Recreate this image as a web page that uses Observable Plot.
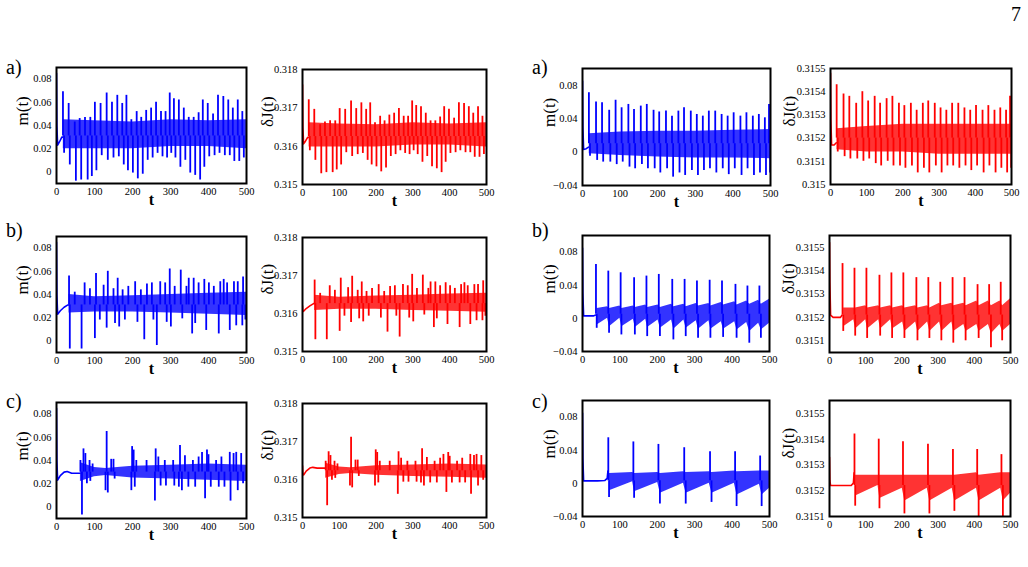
<!DOCTYPE html>
<html><head><meta charset="utf-8">
<script src="https://cdn.jsdelivr.net/npm/d3@7"></script>
<script src="https://cdn.jsdelivr.net/npm/@observablehq/plot@0.6"></script>
<style>
html,body{margin:0;padding:0;background:#fff;}
#fig{position:relative;width:1028px;height:567px;overflow:hidden;font-family:"Liberation Serif","Times New Roman",serif;color:#000;}
.lbl{position:absolute;font-size:20px;line-height:1;white-space:nowrap;}
</style></head><body><div id="fig"></div>
<script>
// ---------- shared ticks ----------
const tTicks = [0,100,200,300,400,500];
const mTicksL = [0,0.02,0.04,0.06,0.08];
const jTicksL = [0.315,0.316,0.317,0.318];
const mTicksR = [-0.04,0,0.04,0.08];
const jTicksRA = [0.315,0.3151,0.3152,0.3153,0.3154,0.3155];
const jTicksRBC = [0.3151,0.3152,0.3153,0.3154,0.3155];

// ---------- row a, left ----------
const LA_initT = [0,1,3,8,14,17];
const LA_mInit = [0.085,0.04,0.023,0.026,0.03,0.03];
const LA_jInit = [0.3176,0.3165,0.31606,0.31613,0.31623,0.31623];
const LA_tPk = [17,32,48,61,75,89,101,116,132,146,160,173,184,197,211,223,236,249,262,275,287,298,309,322,335,348,361,374,385,398,412,425,439,452,464,477,489];
const LA_mPk = [0.069,0.059,0.043,0.046,0.047,0.047,0.060,0.059,0.068,0.060,0.066,0.059,0.066,0.045,0.052,0.047,0.053,0.055,0.060,0.052,0.052,0.068,0.063,0.062,0.055,0.047,0.047,0.051,0.062,0.059,0.050,0.066,0.065,0.062,0.055,0.062,0.052];
const LA_jPk = [0.31721,0.31696,0.31656,0.31663,0.31666,0.31666,0.31698,0.31696,0.31718,0.31698,0.31713,0.31696,0.31713,0.31661,0.31678,0.31666,0.31681,0.31686,0.31698,0.31678,0.31678,0.31718,0.31706,0.31703,0.31686,0.31666,0.31666,0.31676,0.31703,0.31696,0.31673,0.31713,0.31711,0.31703,0.31686,0.31703,0.31678];
const LA_tTr = [20,35,51,65,82,93,105,119,135,150,164,177,188,201,214,227,240,253,266,279,291,302,313,326,339,352,365,378,389,402,416,429,443,456,468,481,493];
const LA_mTr = [0.016,0.006,-0.008,-0.007,-0.007,-0.004,0.001,0.014,0.010,0.012,0.013,0.006,0.001,-0.001,-0.006,-0.002,0.010,0.012,0.016,0.013,0.012,0.016,0.012,0.004,0.010,-0.001,-0.003,-0.007,0.004,0.013,0.014,0.016,0.014,0.014,0.009,0.009,0.012];
const LA_jTr = [0.31588,0.31563,0.31528,0.31531,0.31531,0.31538,0.31551,0.31583,0.31573,0.31578,0.31581,0.31563,0.31551,0.31546,0.31533,0.31543,0.31573,0.31578,0.31588,0.31581,0.31578,0.31588,0.31578,0.31558,0.31573,0.31546,0.31541,0.31531,0.31558,0.31581,0.31583,0.31588,0.31583,0.31583,0.31571,0.31571,0.31578];
const LA_bandT = [18,100,200,300,400,500];
const LA_mLo = [0.020,0.020,0.020,0.022,0.022,0.020];
const LA_mHi = [0.045,0.044,0.043,0.045,0.044,0.045];
const LA_jLo = [0.31598,0.31598,0.31598,0.31603,0.31603,0.31598];
const LA_jHi = [0.31661,0.31658,0.31656,0.31661,0.31658,0.31661];

// ---------- row b, left ----------
const LB_initT = [0,1,3,10,20,30,33];
const LB_mInit = [0.085,0.04,0.023,0.026,0.029,0.031,0.031];
const LB_jInit = [0.3162,0.31605,0.31606,0.31613,0.3162,0.31626,0.31626];
const LB_tPk = [33,48,74,88,104,124,135,150,161,174,189,207,222,238,251,273,286,298,311,327,342,348,361,374,389,401,414,431,440,449,467,477,491];
const LB_mPk = [0.056,0.042,0.050,0.045,0.058,0.048,0.060,0.045,0.054,0.044,0.047,0.051,0.044,0.049,0.050,0.051,0.050,0.062,0.047,0.061,0.047,0.054,0.054,0.050,0.053,0.050,0.047,0.051,0.053,0.050,0.051,0.051,0.055];
const LB_jPk = [0.31688,0.31653,0.31673,0.31661,0.31693,0.31668,0.31698,0.31661,0.31683,0.31658,0.31666,0.31676,0.31658,0.31671,0.31673,0.31676,0.31673,0.31703,0.31666,0.31701,0.31666,0.31683,0.31683,0.31673,0.31681,0.31673,0.31666,0.31676,0.31681,0.31673,0.31676,0.31676,0.31686];
const LB_tTr = [35,66,101,114,132,154,165,180,213,231,255,264,290,301,331,357,365,394,427,456,473,489,497];
const LB_mTr = [-0.007,-0.007,0.002,0.018,0.011,0.015,0.012,0.018,0.016,0.001,0.018,-0.004,0.016,0.012,0.019,0.006,0.015,0.009,0.006,0.009,0.013,0.013,0.018];
const LB_jTr = [0.31531,0.31531,0.31553,0.31593,0.31576,0.31586,0.31578,0.31593,0.31588,0.31551,0.31593,0.31538,0.31588,0.31578,0.31596,0.31563,0.31586,0.31571,0.31563,0.31571,0.31581,0.31581,0.31593];
const LB_bandT = [33,100,200,300,400,500];
const LB_mLo = [0.024,0.025,0.025,0.024,0.023,0.022];
const LB_mHi = [0.040,0.038,0.039,0.040,0.041,0.042];
const LB_jLo = [0.31608,0.31611,0.31611,0.31608,0.31606,0.31603];
const LB_jHi = [0.31648,0.31643,0.31646,0.31648,0.31651,0.31653];

// ---------- row c, left ----------
const LC_initT = [0,1,3,10,20,28,40,62];
const LC_mInit = [0.085,0.04,0.023,0.027,0.030,0.0305,0.029,0.029];
const LC_jInit = [0.31636,0.31615,0.31612,0.31622,0.3163,0.31632,0.3163,0.3163];
const LC_tPk = [63,71,76,87,95,132,144,150,199,203,210,237,261,268,285,307,325,338,359,374,383,396,400,420,434,456,466,473,486];
const LC_mPk = [0.040,0.050,0.046,0.040,0.037,0.065,0.041,0.041,0.052,0.049,0.040,0.040,0.050,0.043,0.040,0.040,0.053,0.044,0.040,0.043,0.047,0.049,0.045,0.040,0.043,0.047,0.046,0.047,0.046];
const LC_jPk = [0.31648,0.31673,0.31663,0.31648,0.31641,0.31711,0.31651,0.31651,0.31678,0.31671,0.31648,0.31648,0.31673,0.31656,0.31648,0.31648,0.31681,0.31658,0.31648,0.31656,0.31666,0.31671,0.31661,0.31648,0.31656,0.31666,0.31663,0.31666,0.31663];
const LC_tTr = [67,80,89,129,135,153,197,206,259,274,288,310,322,330,347,365,391,406,427,442,458,477,491];
const LC_mTr = [-0.007,0.020,0.022,0.014,0.012,0.024,0.014,0.017,0.005,0.018,0.018,0.018,0.017,0.014,0.017,0.017,0.007,0.017,0.017,0.017,0.005,0.014,0.020];
const LC_jTr = [0.31531,0.31598,0.31603,0.31583,0.31578,0.31608,0.31583,0.31591,0.31561,0.31593,0.31593,0.31593,0.31591,0.31583,0.31591,0.31591,0.31566,0.31591,0.31591,0.31591,0.31561,0.31583,0.31598];
const LC_bandT = [63,100,130,200,300,400,500];
const LC_mLo = [0.022,0.026,0.027,0.025,0.024,0.023,0.022];
const LC_mHi = [0.038,0.034,0.033,0.035,0.036,0.037,0.036];
const LC_jLo = [0.31603,0.31613,0.31616,0.31611,0.31608,0.31606,0.31603];
const LC_jHi = [0.31643,0.31633,0.31631,0.31636,0.31638,0.31641,0.31638];

// ---------- row a, right ----------
const RA_initT = [0,1,3,10,16];
const RA_mInit = [0.085,0.03,0.003,0.004,0.006];
const RA_jInit = [0.31548,0.31528,0.31517,0.31517,0.31518];
const RA_tPk = [17,36,52,71,88,104,122,137,155,171,189,204,222,238,255,270,288,304,320,336,353,370,386,402,420,436,453,469,485,496];
const RA_mPk = [0.071,0.060,0.059,0.050,0.062,0.053,0.057,0.051,0.055,0.057,0.050,0.048,0.049,0.043,0.049,0.053,0.049,0.045,0.043,0.049,0.049,0.045,0.043,0.047,0.043,0.047,0.043,0.045,0.041,0.057];
const RA_jPk = [0.31543,0.31539,0.31538,0.31535,0.31540,0.31536,0.31538,0.31535,0.31537,0.31538,0.31535,0.31534,0.31535,0.31532,0.31535,0.31536,0.31535,0.31533,0.31532,0.31535,0.31535,0.31533,0.31532,0.31534,0.31532,0.31534,0.31532,0.31533,0.31532,0.31538];
const RA_tTr = [20,39,55,74,91,107,125,140,158,174,192,207,225,241,258,273,291,307,323,339,356,373,389,405,423,439,456,472,488,499];
const RA_mTr = [-0.005,-0.010,-0.012,-0.012,-0.015,-0.012,-0.018,-0.020,-0.015,-0.020,-0.020,-0.025,-0.020,-0.030,-0.025,-0.028,-0.022,-0.028,-0.022,-0.020,-0.025,-0.020,-0.027,-0.020,-0.028,-0.020,-0.028,-0.025,-0.028,-0.025];
const RA_jTr = [0.31514,0.31512,0.31511,0.31511,0.31510,0.31511,0.31509,0.31508,0.31510,0.31508,0.31508,0.31507,0.31508,0.31505,0.31507,0.31505,0.31508,0.31505,0.31508,0.31508,0.31507,0.31508,0.31506,0.31508,0.31505,0.31508,0.31505,0.31507,0.31505,0.31507];
const RA_bandT = [18,100,200,300,400,500];
const RA_mLo = [-0.002,-0.004,-0.006,-0.007,-0.007,-0.008];
const RA_mHi = [0.022,0.024,0.025,0.025,0.026,0.027];
const RA_jLo = [0.31515,0.31514,0.31514,0.31513,0.31513,0.31513];
const RA_jHi = [0.31524,0.31525,0.31526,0.31526,0.31526,0.31526];

// ---------- row b, right ----------
const RB_initT = [0,1,3,10,20,30,35];
const RB_mInit = [0.085,0.03,0.003,0.003,0.003,0.003,0.004];
const RB_jInit = [0.31552,0.31535,0.31521,0.31520,0.31520,0.31520,0.31521];
const RB_tPk = [36,69,102,138,171,204,240,273,306,340,373,409,441,473];
const RB_mPk = [0.065,0.057,0.055,0.049,0.051,0.053,0.047,0.047,0.045,0.046,0.045,0.041,0.039,0.039];
const RB_jPk = [0.31543,0.31541,0.31541,0.31538,0.31539,0.31539,0.31537,0.31537,0.31535,0.31537,0.31537,0.31534,0.31534,0.31535];
const RB_tTr = [38,71,104,140,173,207,243,276,309,342,376,412,446,477];
const RB_mTr = [-0.012,-0.018,-0.020,-0.020,-0.022,-0.022,-0.026,-0.022,-0.024,-0.024,-0.023,-0.024,-0.030,-0.024];
const RB_jTr = [0.31514,0.31512,0.31511,0.31512,0.31511,0.31511,0.31510,0.31511,0.31510,0.31509,0.31510,0.31511,0.31507,0.31510];
const RB_bandT = [39,67,72,100,105,136,141,169,174,202,208,238,244,271,277,304,310,338,343,371,377,407,413,439,447,471,478,500];
const RB_mLo = [-0.008,0.000,-0.010,0.000,-0.010,-0.001,-0.011,-0.001,-0.011,-0.002,-0.012,-0.002,-0.013,-0.002,-0.012,-0.003,-0.013,-0.003,-0.013,-0.004,-0.013,-0.004,-0.014,-0.005,-0.016,-0.006,-0.014,-0.006];
const RB_mHi = [0.012,0.014,0.012,0.015,0.012,0.015,0.013,0.016,0.013,0.016,0.013,0.017,0.014,0.017,0.014,0.018,0.015,0.018,0.015,0.019,0.016,0.020,0.016,0.021,0.017,0.022,0.017,0.023];
const RB_jLo = [0.31516,0.31519,0.31515,0.31519,0.31515,0.31519,0.31515,0.31519,0.31515,0.31518,0.31514,0.31518,0.31514,0.31518,0.31514,0.31518,0.31514,0.31518,0.31514,0.31517,0.31514,0.31517,0.31514,0.31517,0.31513,0.31517,0.31514,0.31517];
const RB_jHi = [0.31524,0.31524,0.31524,0.31525,0.31524,0.31525,0.31524,0.31525,0.31524,0.31525,0.31524,0.31525,0.31524,0.31525,0.31524,0.31526,0.31525,0.31526,0.31525,0.31526,0.31525,0.31527,0.31525,0.31527,0.31525,0.31527,0.31525,0.31528];

// ---------- row c, right ----------
const RC_initT = [0,1,3,20,40,60,66,68];
const RC_mInit = [0.085,0.03,0.003,0.003,0.003,0.0035,0.006,0.015];
const RC_jInit = [0.31533,0.31524,0.31522,0.31522,0.31522,0.31522,0.31523,0.31527];
const RC_tPk = [69,136,203,272,341,408,475];
const RC_mPk = [0.055,0.050,0.047,0.043,0.038,0.038,0.033];
const RC_jPk = [0.31542,0.31540,0.31539,0.31538,0.31536,0.31536,0.31534];
const RC_tTr = [71,138,207,276,345,412,479];
const RC_mTr = [-0.017,-0.018,-0.025,-0.025,-0.023,-0.028,-0.028];
const RC_jTr = [0.31514,0.31513,0.31511,0.31511,0.31512,0.31510,0.31510];
const RC_bandT = [72,134,139,201,208,270,277,339,346,406,413,473,480,500];
const RC_mLo = [-0.009,0.002,-0.010,0.001,-0.012,0.000,-0.012,0.000,-0.012,0.000,-0.014,-0.001,-0.014,-0.006];
const RC_mHi = [0.012,0.013,0.012,0.013,0.012,0.014,0.013,0.014,0.013,0.015,0.014,0.015,0.015,0.015];
const RC_jLo = [0.31518,0.31522,0.31517,0.31521,0.31516,0.31521,0.31516,0.31521,0.31516,0.31521,0.31516,0.31521,0.31516,0.31519];
const RC_jHi = [0.31526,0.31526,0.31526,0.31526,0.31526,0.31526,0.31526,0.31526,0.31526,0.31527,0.31526,0.31527,0.31527,0.31527];

// ---------- drawing ----------
const fig = document.getElementById("fig");
const BLUE = "#0000ff", RED = "#ff0000";
const fmt = d => (d < 0 ? "\u2212" + String(-d) : String(d));
const pairs = (ts, vs) => ts.map((t, i) => ({t, v: vs[i]}));

function panel(o) {
  const mL = 50, mR = 4, mT = 4, mB = 32;
  const w = o.x1 - o.x0, h = o.y1 - o.y0;
  const band = o.bandT.map((t, i) => ({t, lo: o.lo[i], hi: o.hi[i]}));
  const svg = Plot.plot({
    width: w + mL + mR, height: h + mT + mB,
    marginLeft: mL, marginRight: mR, marginTop: mT, marginBottom: mB,
    style: {fontFamily: '"Liberation Serif","Times New Roman",serif', fontSize: "10.5px", background: "transparent", overflow: "visible", color: "#000"},
    x: {domain: [0, 500], ticks: tTicks, tickSize: 0, tickPadding: 4, label: null, tickFormat: d => String(d)},
    y: {domain: o.domain, ticks: o.ticks, tickSize: 0, tickPadding: 5, label: null, tickFormat: fmt},
    marks: [
      Plot.areaY(band, {x: "t", y1: "lo", y2: "hi", fill: o.color, fillOpacity: 0.8, clip: true}),
      Plot.ruleX(pairs(o.pkT, o.pk), {x: "t", y1: o.base, y2: "v", stroke: o.color, strokeWidth: 1.8, clip: true}),
      Plot.ruleX(pairs(o.trT, o.tr), {x: "t", y1: o.base, y2: "v", stroke: o.color, strokeWidth: 1.8, clip: true}),
      Plot.line(pairs(o.initT, o.init), {x: "t", y: "v", stroke: o.color, strokeWidth: 1.6, clip: true}),
      Plot.frame({stroke: "#000", strokeWidth: 2}),
      Plot.text([o.ylabel], {text: d => d, frameAnchor: "left", dx: o.ldx, rotate: -90, fontSize: 17, fill: "#000"}),
      Plot.text(["t"], {text: d => d, frameAnchor: "bottom", dy: 21, fontSize: 16, fontWeight: "bold", fill: "#000"})
    ]
  });
  svg.style.position = "absolute";
  svg.style.left = (o.x0 - mL) + "px";
  svg.style.top = (o.y0 - mT) + "px";
  fig.appendChild(svg);
}

const L_m = {domain: [-0.01, 0.09], ticks: mTicksL, color: BLUE, ylabel: "m(t)", ldx: -34, x0: 56, x1: 246};
const L_j = {domain: [0.315, 0.318], ticks: jTicksL, color: RED, ylabel: "\u03b4J(t)", ldx: -35, x0: 302, x1: 486};
const R_m = {domain: [-0.04, 0.1], ticks: mTicksR, color: BLUE, ylabel: "m(t)", ldx: -33, x0: 582, x1: 770};
const R_j = {color: RED, ylabel: "\u03b4J(t)", ldx: -41, x0: 830, x1: 1011};

// row a
panel({...L_m, y0: 67, y1: 183, base: 0.031, initT: LA_initT, init: LA_mInit, pkT: LA_tPk, pk: LA_mPk, trT: LA_tTr, tr: LA_mTr, bandT: LA_bandT, lo: LA_mLo, hi: LA_mHi});
panel({...L_j, y0: 69, y1: 184, base: 0.31625, initT: LA_initT, init: LA_jInit, pkT: LA_tPk, pk: LA_jPk, trT: LA_tTr, tr: LA_jTr, bandT: LA_bandT, lo: LA_jLo, hi: LA_jHi});
panel({...R_m, y0: 68, y1: 185, base: 0.010, initT: RA_initT, init: RA_mInit, pkT: RA_tPk, pk: RA_mPk, trT: RA_tTr, tr: RA_mTr, bandT: RA_bandT, lo: RA_mLo, hi: RA_mHi});
panel({...R_j, domain: [0.315, 0.3155], ticks: jTicksRA, y0: 68, y1: 184, base: 0.3152, initT: RA_initT, init: RA_jInit, pkT: RA_tPk, pk: RA_jPk, trT: RA_tTr, tr: RA_jTr, bandT: RA_bandT, lo: RA_jLo, hi: RA_jHi});
// row b
panel({...L_m, y0: 236, y1: 352, base: 0.031, initT: LB_initT, init: LB_mInit, pkT: LB_tPk, pk: LB_mPk, trT: LB_tTr, tr: LB_mTr, bandT: LB_bandT, lo: LB_mLo, hi: LB_mHi});
panel({...L_j, y0: 237, y1: 351, base: 0.31626, initT: LB_initT, init: LB_jInit, pkT: LB_tPk, pk: LB_jPk, trT: LB_tTr, tr: LB_jTr, bandT: LB_bandT, lo: LB_jLo, hi: LB_jHi});
panel({...R_m, x1: 769, y0: 235, y1: 351, base: 0.005, initT: RB_initT, init: RB_mInit, pkT: RB_tPk, pk: RB_mPk, trT: RB_tTr, tr: RB_mTr, bandT: RB_bandT, lo: RB_mLo, hi: RB_mHi});
panel({...R_j, x0: 829, x1: 1010, domain: [0.31505, 0.31555], ticks: jTicksRBC, y0: 235, y1: 352, base: 0.31521, initT: RB_initT, init: RB_jInit, pkT: RB_tPk, pk: RB_jPk, trT: RB_tTr, tr: RB_jTr, bandT: RB_bandT, lo: RB_jLo, hi: RB_jHi});
// row c
panel({...L_m, y0: 402, y1: 518, base: 0.030, initT: LC_initT, init: LC_mInit, pkT: LC_tPk, pk: LC_mPk, trT: LC_tTr, tr: LC_mTr, bandT: LC_bandT, lo: LC_mLo, hi: LC_mHi});
panel({...L_j, y0: 403, y1: 517, base: 0.31623, initT: LC_initT, init: LC_jInit, pkT: LC_tPk, pk: LC_jPk, trT: LC_tTr, tr: LC_jTr, bandT: LC_bandT, lo: LC_jLo, hi: LC_jHi});
panel({...R_m, x1: 769, y0: 400, y1: 516, base: 0.003, initT: RC_initT, init: RC_mInit, pkT: RC_tPk, pk: RC_mPk, trT: RC_tTr, tr: RC_mTr, bandT: RC_bandT, lo: RC_mLo, hi: RC_mHi});
panel({...R_j, x0: 829, x1: 1010, domain: [0.3151, 0.31555], ticks: jTicksRBC, y0: 400, y1: 516, base: 0.31522, initT: RC_initT, init: RC_jInit, pkT: RC_tPk, pk: RC_jPk, trT: RC_tTr, tr: RC_jTr, bandT: RC_bandT, lo: RC_jLo, hi: RC_jHi});

// panel letters and page number
const labels = [
  {t: "a)", x: 6, y: 57}, {t: "a)", x: 532, y: 57},
  {t: "b)", x: 6, y: 220}, {t: "b)", x: 532, y: 220},
  {t: "c)", x: 6, y: 391}, {t: "c)", x: 532, y: 391},
  {t: "7", x: 1011, y: 4}
];
for (const l of labels) {
  const d = document.createElement("div");
  d.className = "lbl";
  d.textContent = l.t;
  d.style.left = l.x + "px";
  d.style.top = l.y + "px";
  fig.appendChild(d);
}
</script></body></html>
